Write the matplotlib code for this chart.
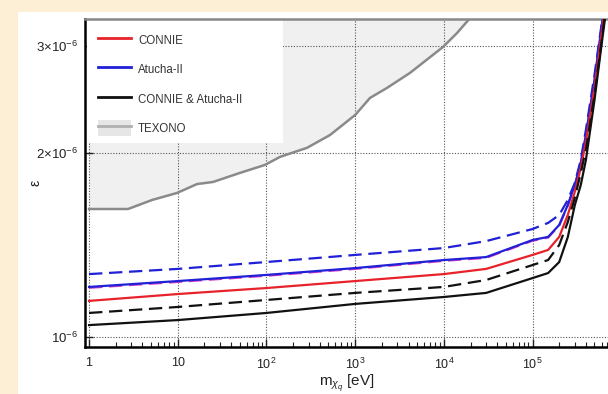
import numpy as np
import matplotlib.pyplot as plt
from matplotlib.patches import Patch, Rectangle
from matplotlib.lines import Line2D
from matplotlib.ticker import FixedLocator, FixedFormatter, NullFormatter, NullLocator

plt.rcParams["font.family"] = ["Liberation Sans", "DejaVu Sans"]
plt.rcParams["mathtext.fontset"] = "custom"
plt.rcParams["mathtext.rm"] = "Liberation Sans"
plt.rcParams["mathtext.it"] = "Liberation Sans:italic"
plt.rcParams["mathtext.bf"] = "Liberation Sans:bold"

# ------------------------------------------------------------
# Dados
# ------------------------------------------------------------
mass = [1, 10, 1e2, 1e3, 1e4, 3e4, 1e5, 1.5e5, 2e5, 2.5e5, 3e5, 3.5e5, 4e5, 5e5, 6e5, 7e5]

# limites em unidades de 1e-6
connie_solid   = [1.146, 1.176, 1.203, 1.235, 1.268, 1.293, 1.363, 1.389, 1.459, 1.585, 1.729, 1.892, 2.088, 2.560, 3.126, 3.75]
connie_dashed  = [1.204, 1.231, 1.260, 1.293, 1.333, 1.348, 1.438, 1.455, 1.522, 1.642, 1.771, 1.924, 2.139, 2.633, 3.205, 3.84]
atucha_solid   = [1.208, 1.235, 1.264, 1.297, 1.337, 1.352, 1.442, 1.459, 1.526, 1.646, 1.775, 1.928, 2.143, 2.637, 3.210, 3.85]
atucha_dashed  = [1.268, 1.293, 1.327, 1.363, 1.399, 1.436, 1.503, 1.538, 1.585, 1.677, 1.789, 1.950, 2.185, 2.689, 3.250, 3.90]
combo_solid    = [1.046, 1.066, 1.095, 1.133, 1.163, 1.181, 1.249, 1.273, 1.327, 1.458, 1.645, 1.774, 1.950, 2.446, 3.010, 3.57]
combo_dashed   = [1.095, 1.120, 1.150, 1.181, 1.208, 1.240, 1.312, 1.337, 1.415, 1.543, 1.690, 1.857, 2.026, 2.493, 3.045, 3.65]

texono_mass = [1, 2.75, 5.13, 9.8, 16.5, 25, 50, 96, 142, 287, 521, 1000, 1472, 2290, 4155, 9780, 14090, 19700, 23000]
texono_eps  = [1.621, 1.621, 1.677, 1.722, 1.781, 1.795, 1.857, 1.914, 1.973, 2.042, 2.143, 2.311, 2.465, 2.560, 2.709, 2.987, 3.149, 3.330, 3.60]

x_ticks = [1, 10, 1e2, 1e3, 1e4, 1e5]
x_tick_labels = ["1", "10", "$10^2$", "$10^3$", "$10^4$", "$10^5$"]
y_ticks = [1e-6, 2e-6, 3e-6]
y_tick_labels = ["$10^{-6}$", "$2{\\times}10^{-6}$", "$3{\\times}10^{-6}$"]

# ------------------------------------------------------------
# Figura
# ------------------------------------------------------------
W, H = 608, 394
fig = plt.figure(figsize=(W / 100, H / 100), dpi=100, facecolor="#FCEFD5")
fig.patches.append(Rectangle((18 / W, 0), 1 - 18 / W, 1 - 12 / H,
                             transform=fig.transFigure, facecolor="white",
                             edgecolor="none", zorder=-10))

ax = fig.add_axes([85 / W, (H - 347) / H, (W - 85) / W, (347 - 19) / H])
ax.set_facecolor("none")
ax.set_xscale("log")
ax.set_yscale("log")
ax.set_xlim(0.90, 7.1e5)
ax.set_ylim(0.963e-6, 3.32e-6)

scale = 1e-6
m = np.array(mass)

# TEXONO (região excluída)
tm = np.array(texono_mass)
te = np.array(texono_eps) * scale
ax.fill_between(tm, te, 5e-6, color="#f0f0f0", lw=0, zorder=0.2)
ax.plot(tm, te, color="#8a8a8a", lw=1.8, zorder=1.5)

# fundo branco da legenda
ax.add_patch(Rectangle((0.004, 0.622), 0.375, 0.378, transform=ax.transAxes,
                       facecolor="white", edgecolor="none", zorder=0.9))

dash = (0, (6, 3))
lw = 1.6
ax.plot(m, np.array(connie_dashed) * scale, color="#d23fc8", lw=lw, ls=dash, zorder=2)
ax.plot(m, np.array(atucha_dashed) * scale, color="#2020d6", lw=lw, ls=dash, zorder=3)
ax.plot(m, np.array(atucha_solid) * scale, color="#2020d6", lw=lw, zorder=3)
ax.plot(m, np.array(connie_solid) * scale, color="#e8222a", lw=lw, zorder=3)
ax.plot(m, np.array(combo_dashed) * scale, color="#111111", lw=lw, ls=dash, zorder=3)
ax.plot(m, np.array(combo_solid) * scale, color="#111111", lw=lw, zorder=3)

# eixos e grade
ax.xaxis.set_major_locator(FixedLocator(x_ticks))
ax.xaxis.set_major_formatter(FixedFormatter(x_tick_labels))
ax.xaxis.set_minor_locator(FixedLocator([k * 10 ** d for d in range(0, 6) for k in range(2, 10)]))
ax.xaxis.set_minor_formatter(NullFormatter())
ax.yaxis.set_major_locator(FixedLocator(y_ticks))
ax.yaxis.set_major_formatter(FixedFormatter(y_tick_labels))
ax.yaxis.set_minor_locator(NullLocator())

ax.tick_params(which="major", direction="in", length=6, width=1, labelsize=9, pad=7, colors="#222")
ax.tick_params(axis="y", which="major", labelsize=9.5, pad=5)
ax.tick_params(which="minor", direction="in", length=3.5, width=0.8, colors="#222")

ax.set_axisbelow(True)
ax.grid(True, which="major", color="#555555", lw=0.8, ls=(0, (1, 1.5)))

ax.spines["left"].set_linewidth(1.8)
ax.spines["bottom"].set_linewidth(1.8)
ax.spines["top"].set_color("#888888")
ax.spines["top"].set_linewidth(1.8)
ax.spines["right"].set_visible(False)

ax.set_xlabel(r"m$_{\chi_q}$ [eV]", fontsize=11, color="#222", labelpad=0)
ax.set_ylabel("ε", fontsize=10, color="#222")
ax.yaxis.set_label_coords((43 - 85) / (W - 85), 0.5)

# legenda
handles = [
    Line2D([], [], color="#e8222a", lw=2),
    Line2D([], [], color="#2020d6", lw=2),
    Line2D([], [], color="#111111", lw=2),
    (Patch(facecolor="#e6e6e6", edgecolor="none"), Line2D([], [], color="#b0b0b0", lw=2)),
]
labels = ["CONNIE", "Atucha-II", "CONNIE & Atucha-II", "TEXONO"]
leg = ax.legend(handles, labels, loc="upper left", bbox_to_anchor=(0.0, 1.0),
                frameon=False, fontsize=8.3, handlelength=2.8, handleheight=1.8,
                labelspacing=1.12, handletextpad=0.65, borderpad=0.65)
for t in leg.get_texts():
    t.set_color("#333333")
leg.set_zorder(5)

plt.savefig("out.png", dpi=100, facecolor=fig.get_facecolor())
plt.close()
